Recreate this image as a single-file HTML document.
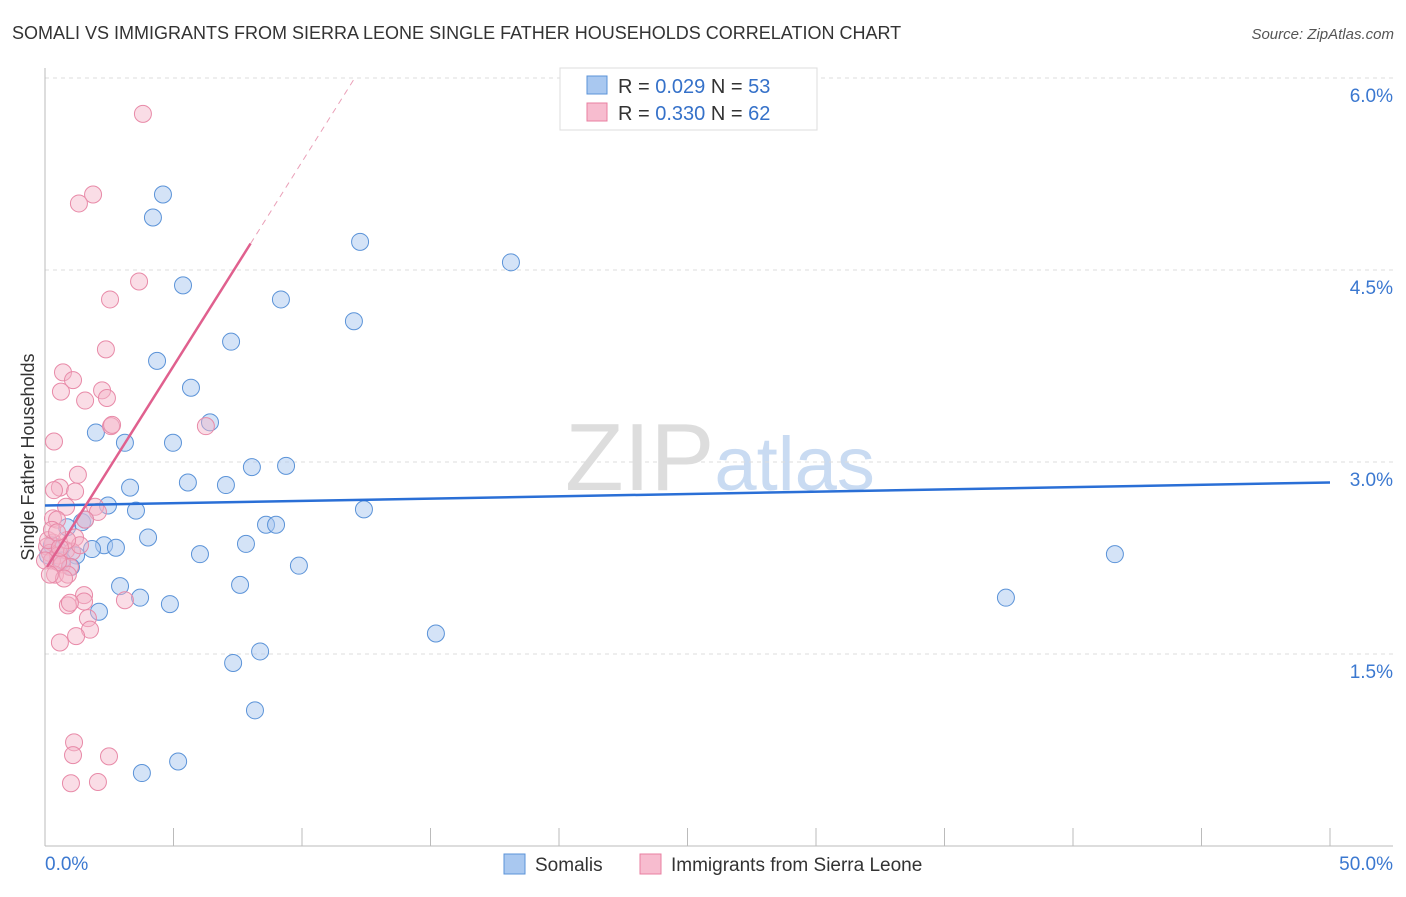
<!DOCTYPE html>
<html><head><meta charset="utf-8"><style>
body{margin:0;background:#fff;font-family:"Liberation Sans",sans-serif}
svg text{font-family:"Liberation Sans",sans-serif}
</style></head><body>
<svg id="c" width="1406" height="892" xmlns="http://www.w3.org/2000/svg">
<text x="12" y="39" font-size="18" fill="#333">SOMALI VS IMMIGRANTS FROM SIERRA LEONE SINGLE FATHER HOUSEHOLDS CORRELATION CHART</text>
<text x="1394" y="39" font-size="15" fill="#555" font-style="italic" text-anchor="end">Source: ZipAtlas.com</text>
<text x="720" y="490" font-size="96" fill="#ddd" text-anchor="middle" font-family="Liberation Serif">ZIP<tspan fill="#c9dbf2" font-family="Liberation Sans" font-size="76">atlas</tspan></text>
<text transform="translate(34,457) rotate(-90)" font-size="18" fill="#333" text-anchor="middle">Single Father Households</text>
<g id="grid"></g><g id="axes"></g><g id="pts"></g><g id="lines"></g>
<g>
<rect x="560" y="68" width="257" height="62" fill="#fff" stroke="#ddd"/>
<rect x="587" y="76" width="20" height="18" fill="#a9c8f0" stroke="#5b93d8"/>
<text x="618" y="93" font-size="20" fill="#333">R = <tspan fill="#3571c9">0.029</tspan>   N = <tspan fill="#3571c9">53</tspan></text>
<rect x="587" y="103" width="20" height="18" fill="#f7bccf" stroke="#e87fa0"/>
<text x="618" y="120" font-size="20" fill="#333">R = <tspan fill="#3571c9">0.330</tspan>   N = <tspan fill="#3571c9">62</tspan></text>
</g>
<g>
<rect x="504" y="854" width="21" height="20" fill="#a9c8f0" stroke="#5b93d8"/>
<text x="535" y="871" font-size="19" fill="#333">Somalis</text>
<rect x="640" y="854" width="21" height="20" fill="#f7bccf" stroke="#e87fa0"/>
<text x="671" y="871" font-size="19" fill="#333">Immigrants from Sierra Leone</text>
</g>
</svg>
<script>
const xTicks=[0,5,10,15,20,25,30,35,40,45,50];
const yTicks=[1.5,3.0,4.5,6.0];
const yTickLabels=["1.5%","3.0%","4.5%","6.0%"];
const blueX=[4.59,4.20,12.26,18.13,5.37,9.18,12.02,7.24,4.36,5.68,6.42,1.98,3.11,4.98,8.05,9.38,5.56,7.04,3.31,2.45,3.54,12.41,8.60,8.99,1.44,0.86,4.01,7.82,2.30,2.76,1.83,1.21,6.03,41.63,1.01,9.88,2.92,7.59,3.70,4.86,37.39,2.10,15.21,8.37,7.32,8.17,5.18,3.77,0.51,0.27,0.66,1.56,0.12];
const blueY=[5.09,4.91,4.72,4.56,4.38,4.27,4.10,3.94,3.79,3.58,3.31,3.23,3.15,3.15,2.96,2.97,2.84,2.82,2.80,2.66,2.62,2.63,2.51,2.51,2.53,2.49,2.41,2.36,2.35,2.33,2.32,2.27,2.28,2.28,2.18,2.19,2.03,2.04,1.94,1.89,1.94,1.83,1.66,1.52,1.43,1.06,0.66,0.57,2.31,2.35,2.23,2.55,2.27];
const pinkX=[3.81,1.87,1.32,3.66,2.53,2.37,0.70,1.09,0.62,2.22,2.41,1.56,6.26,2.57,0.35,1.28,0.58,0.35,1.17,1.95,0.82,2.06,0.31,0.47,1.56,1.17,0.31,0.08,0.19,0.51,0.82,1.05,0.27,0.66,0.97,0.39,0.89,0.74,2.61,1.52,1.52,3.11,0.89,0.97,1.67,1.75,1.21,0.58,1.13,1.09,2.49,1.01,2.06,0.51,0.12,0.27,0.0,1.36,0.86,0.58,0.47,0.19];
const pinkY=[5.72,5.09,5.02,4.41,4.27,3.88,3.70,3.64,3.55,3.56,3.50,3.48,3.28,3.28,3.16,2.90,2.80,2.78,2.77,2.65,2.65,2.61,2.56,2.55,2.55,2.41,2.37,2.34,2.29,2.27,2.31,2.30,2.23,2.20,2.18,2.12,2.12,2.09,3.29,1.96,1.91,1.92,1.88,1.90,1.78,1.69,1.64,1.59,0.81,0.71,0.70,0.49,0.50,2.22,2.39,2.47,2.23,2.35,2.39,2.33,2.45,2.12];
const blueTrend=[2.66,2.84];
const pinkTrend=[2.155,0.319];
const X=v=>45+v*25.7, Y=v=>846-v*128;
const NS="http://www.w3.org/2000/svg";
function mk(tag,attrs,parent){const e=document.createElementNS(NS,tag);for(const k in attrs)e.setAttribute(k,attrs[k]);document.getElementById(parent).appendChild(e);return e;}
yTicks.forEach((t,i)=>{
 const g=mk('line',{x1:45,x2:1393,y1:Y(t),y2:Y(t),stroke:'#ddd','stroke-dasharray':'4,4'},'grid');
 
 
 const l=mk('text',{x:1393,y:Y(t)+24,'font-size':19,fill:'#3b78d0','text-anchor':'end'},'axes');
 l.textContent=yTickLabels[i];
 
 
});
const ax=mk('line',{x1:45,x2:45,y1:68,y2:846,stroke:'#bbb'},'axes');


const bx=mk('line',{x1:45,x2:1393,y1:846,y2:846,stroke:'#bbb'},'axes');


xTicks.forEach(t=>{
 const k=mk('line',{x1:X(t),x2:X(t),y1:828,y2:846,stroke:'#bbb'},'axes');
 
 
});
const x0=mk('text',{x:45,y:870,'font-size':19,fill:'#3b78d0'},'axes');x0.textContent='0.0%';


const x1=mk('text',{x:1393,y:870,'font-size':19,fill:'#3b78d0','text-anchor':'end'},'axes');x1.textContent='50.0%';


blueX.forEach((v,i)=>{
 const c=mk('circle',{cx:X(v),cy:Y(blueY[i]),r:8.5,fill:'rgba(169,200,240,0.5)',stroke:'#5b93d8','stroke-width':1},'pts');
 
 
});
pinkX.forEach((v,i)=>{
 const c=mk('circle',{cx:X(v),cy:Y(pinkY[i]),r:8.5,fill:'rgba(245,179,200,0.45)',stroke:'#e88aa8','stroke-width':1},'pts');
 
 
});
const bl=mk('line',{x1:X(0),y1:Y(blueTrend[0]),x2:X(50),y2:Y(blueTrend[1]),stroke:'#2a6fd6','stroke-width':2.5},'lines');


const pf=v=>pinkTrend[0]+pinkTrend[1]*v;
const pxEnd=(6-pinkTrend[0])/pinkTrend[1];
const pl=mk('line',{x1:X(0.08),y1:Y(pf(0.08)),x2:X(8),y2:Y(pf(8)),stroke:'#e0608e','stroke-width':2.5},'lines');


const pd=mk('line',{x1:X(8),y1:Y(pf(8)),x2:X(pxEnd),y2:Y(6),stroke:'#eaa0b8','stroke-width':1,'stroke-dasharray':'6,5'},'lines');


</script>
</body></html>
